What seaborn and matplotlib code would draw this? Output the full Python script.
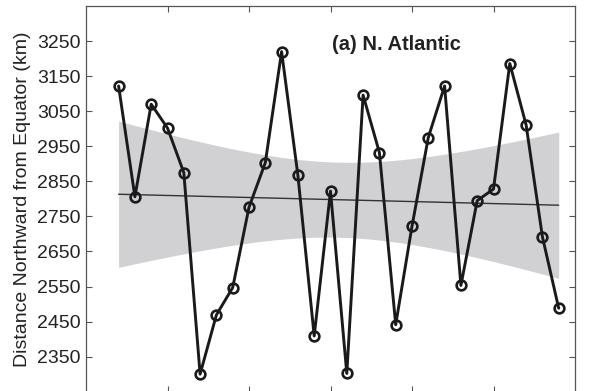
import numpy as np
import pandas as pd
import matplotlib
matplotlib.use("Agg")
import matplotlib.pyplot as plt
import seaborn as sns

years = list(range(1982, 2010))
distance_km = [3122, 2806, 3070, 3002, 2875, 2300, 2469, 2547, 2776, 2903,
               3220, 2867, 2409, 2822, 2302, 3096, 2932, 2441, 2722, 2975,
               3122, 2553, 2795, 2828, 3186, 3011, 2692, 2488]
ytick_values = [2350, 2450, 2550, 2650, 2750, 2850, 2950, 3050, 3150, 3250]
xtick_values = [1985, 1990, 1995, 2000, 2005]
title_text = "(a) N. Atlantic"
ylabel_text = "Distance Northward from Equator (km)"

df = pd.DataFrame({"year": years, "distance": distance_km})

# analytic 95% confidence band of the least-squares fit
x = np.asarray(years, dtype=float)
y = np.asarray(distance_km, dtype=float)
n = len(x)
slope, intercept = np.polyfit(x, y, 1)
resid = y - (slope * x + intercept)
s = np.sqrt(np.sum(resid ** 2) / (n - 2))
sxx = np.sum((x - x.mean()) ** 2)
t_crit = 2.056  # t(0.975, 26)
xg = np.linspace(x.min(), x.max(), 200)
fit = slope * xg + intercept
half = t_crit * s * np.sqrt(1.0 / n + (xg - x.mean()) ** 2 / sxx)

sns.set_theme(style="white")
plt.rcParams["font.family"] = ["Liberation Sans", "DejaVu Sans"]

fig = plt.figure(figsize=(5.99, 3.91), dpi=100)
ax = fig.add_axes([86 / 599, -0.0018, (575 - 86) / 599, 0.9864])

ax.fill_between(xg, fit - half, fit + half, color="#d1d1d4", linewidth=0, zorder=1)
sns.regplot(data=df, x="year", y="distance", ax=ax, scatter=False, ci=None,
            color="#333333", line_kws={"linewidth": 1.0, "zorder": 2})

sns.lineplot(data=df, x="year", y="distance", ax=ax, color="#1a1a1a",
             linewidth=2.1, marker="o", markersize=7,
             markerfacecolor="none", markeredgecolor="#1a1a1a",
             markeredgewidth=1.9, zorder=3)

ax.set_xlim(1980, 2010)
ax.set_ylim(2250, 3350)
ax.set_yticks(ytick_values)
ax.set_yticklabels([str(v) for v in ytick_values], fontsize=14, color="#222222")
ax.set_xticks(xtick_values)
ax.set_xticklabels([])
ax.set_xlabel("")
ax.set_ylabel(ylabel_text, fontsize=14, color="#222222", labelpad=4)
ax.tick_params(axis="both", which="both", direction="in", length=4,
               width=0.8, color="#555555", top=True, right=True,
               left=True, bottom=True, labelright=False, labeltop=False, pad=4)
for sp in ax.spines.values():
    sp.set_visible(True)
    sp.set_color("#555555")
    sp.set_linewidth(0.9)

ax.text(0.634, 0.9, title_text, transform=ax.transAxes, fontsize=14.5,
        fontweight="bold", color="#222222", ha="center", va="center")

fig.savefig("out.png", dpi=100)
